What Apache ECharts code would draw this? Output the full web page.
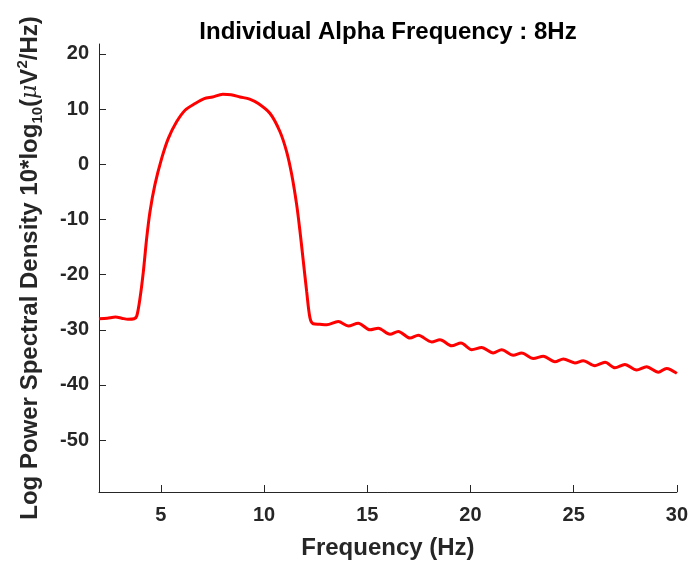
<!DOCTYPE html>
<html>
<head>
<meta charset="utf-8">
<script src="https://cdn.jsdelivr.net/npm/echarts@6/dist/echarts.min.js"></script>
<style>
html,body{margin:0;padding:0;background:#fff;}
#chart{width:691px;height:565px;}
</style>
</head>
<body>
<div id="chart"></div>
<script>
// Data
var freq = [2.0, 2.4, 2.8, 3.1, 3.4, 3.7, 3.83, 3.99, 4.15, 4.31, 4.47, 4.71, 5.04, 5.36, 5.76, 6.17, 6.65, 7.1, 7.5, 8.0, 8.4, 8.83, 9.3, 9.72, 10.29, 10.77, 11.09, 11.34, 11.58, 11.74, 11.90, 12.06, 12.22, 12.38, 12.7,
  13.03, 13.59, 14.08, 14.56, 15.13, 15.53, 16.10, 16.50, 17.07, 17.47, 18.12, 18.52, 19.09, 19.54, 20.06, 20.54, 21.10, 21.51, 22.07, 22.48, 23.04, 23.53, 24.09, 24.50, 25.06, 25.46, 26.03, 26.52, 27.00, 27.48, 28.05, 28.53, 29.10, 29.50, 30.0];
var psd = [-28.0, -27.9, -27.7, -27.9, -28.1, -28.0, -27.5, -24.2, -19.4, -13.4, -8.6, -3.7, 1.1, 4.7, 7.7, 9.8, 11.0, 11.9, 12.2, 12.7, 12.6, 12.2, 11.8, 11.0, 9.2, 5.9, 2.3, -1.9, -7.4, -12.2, -17.6, -23.0, -27.8, -28.9, -29.0,
  -29.1, -28.5, -29.3, -28.8, -30.0, -29.7, -30.8, -30.3, -31.5, -31.0, -32.2, -31.8, -32.9, -32.4, -33.6, -33.2, -34.2, -33.6, -34.6, -34.2, -35.2, -34.8, -35.8, -35.3, -36.0, -35.6, -36.5, -35.9, -36.9, -36.3, -37.3, -36.7, -37.7, -37.0, -37.9];
var xTicks = [5, 10, 15, 20, 25, 30];
var yTicks = [-50, -40, -30, -20, -10, 0, 10, 20];
var xRange = [2, 30];
var yRange = [-59.4, 21.8];
var titleText = 'Individual Alpha Frequency : 8Hz';
var xName = 'Frequency (Hz)';

var seriesData = freq.map(function (f, i) { return [f, psd[i]]; });
var textColor = '#262626';
var fontFam = '"Liberation Sans", Arial, sans-serif';

var chart = echarts.init(document.getElementById('chart'), null, {renderer: 'canvas'});
chart.setOption({
  backgroundColor: '#ffffff',
  animation: false,
  title: {
    text: titleText,
    left: 383,
    top: 15,
    textAlign: 'center',
    textStyle: {fontFamily: fontFam, fontSize: 24, fontWeight: 'bold', color: '#000'}
  },
  grid: {left: 99, right: 14, top: 44, bottom: 73, containLabel: false},
  xAxis: {
    type: 'value',
    min: xRange[0],
    max: xRange[1],
    name: xName,
    nameLocation: 'middle',
    nameGap: 44,
    nameTextStyle: {fontFamily: fontFam, fontSize: 24, fontWeight: 'bold', color: textColor},
    axisLine: {show: true, onZero: false, lineStyle: {color: textColor, width: 1}},
    axisTick: {show: true, inside: true, length: 7, customValues: xTicks, lineStyle: {color: textColor}},
    axisLabel: {customValues: xTicks, margin: 13, fontFamily: fontFam, fontSize: 20, fontWeight: 'bold', color: textColor},
    splitLine: {show: false}
  },
  yAxis: {
    type: 'value',
    min: yRange[0],
    max: yRange[1],
    name: '{n|Log Power Spectral Density 10*log}{sub|10}{n|(}{mu|μ}{n|V}{sup|2}{n|/Hz)}',
    nameLocation: 'middle',
    nameRotate: 90,
    nameGap: 54,
    nameTextStyle: {
      fontFamily: fontFam, fontSize: 24, fontWeight: 'bold', color: textColor,
      rich: {
        n: {fontFamily: fontFam, fontSize: 24, fontWeight: 'bold', color: textColor, lineHeight: 30, verticalAlign: 'middle'},
        sub: {fontFamily: fontFam, fontSize: 15, fontWeight: 'bold', color: textColor, lineHeight: 15, verticalAlign: 'bottom'},
        sup: {fontFamily: fontFam, fontSize: 15, fontWeight: 'bold', color: textColor, lineHeight: 15, verticalAlign: 'top'},
        mu: {fontFamily: '"DejaVu Serif", serif', fontSize: 22, fontStyle: 'italic', fontWeight: 'normal', color: textColor, lineHeight: 30, verticalAlign: 'middle'}
      }
    },
    axisLine: {show: true, onZero: false, lineStyle: {color: textColor, width: 1}},
    axisTick: {show: true, inside: true, length: 7, customValues: yTicks, lineStyle: {color: textColor}},
    axisLabel: {customValues: yTicks, margin: 10, fontFamily: fontFam, fontSize: 20, fontWeight: 'bold', color: textColor},
    splitLine: {show: false}
  },
  series: [{
    type: 'line',
    data: seriesData,
    smooth: 0.3,
    showSymbol: false,
    symbol: 'none',
    lineStyle: {color: '#ff0000', width: 3},
    itemStyle: {color: '#ff0000'}
  }]
});
</script>
</body>
</html>
